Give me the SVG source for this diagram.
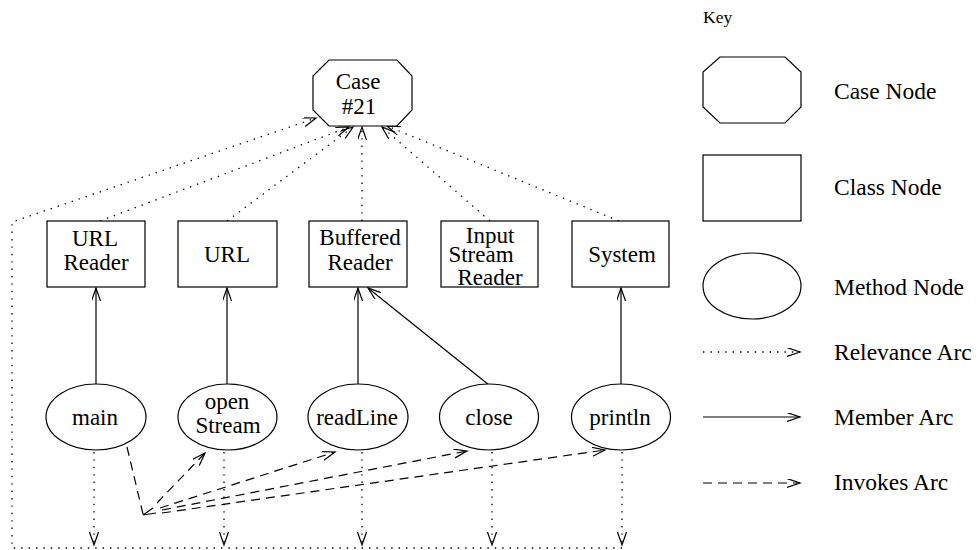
<svg xmlns="http://www.w3.org/2000/svg" width="979" height="550" viewBox="0 0 979 550">
<style>
.shape{fill:#fff;stroke:#000;stroke-width:1.2}
.lbl{font-family:"Liberation Serif","Times New Roman",serif;font-size:23px;fill:#000;text-anchor:middle}
.klbl{font-family:"Liberation Serif","Times New Roman",serif;font-size:23.5px;fill:#000}
.rel{fill:none;stroke:#000;stroke-width:1.3;stroke-dasharray:1.4 6}
.mem{fill:none;stroke:#000;stroke-width:1.2}
.inv{fill:none;stroke:#000;stroke-width:1.2;stroke-dasharray:9 6}
</style>
<defs>
<marker id="ah" markerUnits="userSpaceOnUse" markerWidth="16" markerHeight="12" refX="13" refY="4.5" orient="auto">
<path d="M0,0 L13,4.5 L0,9" fill="none" stroke="#000" stroke-width="1.2"/>
</marker>
</defs>

<g id="connectors">
<path class="rel" d="M622,548 H12 V222 L316,118" marker-end="url(#ah)"/>
<path class="rel" d="M100,221 L349,127" marker-end="url(#ah)"/>
<path class="rel" d="M227,221 L353,127" marker-end="url(#ah)"/>
<path class="rel" d="M362,221 L362,127" marker-end="url(#ah)"/>
<path class="rel" d="M490,221 L382,127" marker-end="url(#ah)"/>
<path class="rel" d="M619,221 L387,126" marker-end="url(#ah)"/>
<path class="rel" d="M94,452 L94,545" marker-end="url(#ah)"/>
<path class="rel" d="M224,452 L224,545" marker-end="url(#ah)"/>
<path class="rel" d="M362,452 L362,545" marker-end="url(#ah)"/>
<path class="rel" d="M492,452 L492,545" marker-end="url(#ah)"/>
<path class="rel" d="M622,452 L622,545" marker-end="url(#ah)"/>
<path class="mem" d="M96,385 L96,288" marker-end="url(#ah)"/>
<path class="mem" d="M227,385 L227,288" marker-end="url(#ah)"/>
<path class="mem" d="M358,385 L358,288" marker-end="url(#ah)"/>
<path class="mem" d="M489,385 L368,288" marker-end="url(#ah)"/>
<path class="mem" d="M621,385 L621,288" marker-end="url(#ah)"/>
<path class="inv" d="M127,447 L143,514"/>
<path d="M153,508 L143,515 L156,513" fill="none" stroke="#000" stroke-width="1.2"/>
<path class="inv" d="M157,503 L205,453" marker-end="url(#ah)"/>
<path class="inv" d="M160,508 L335,452" marker-end="url(#ah)"/>
<path class="inv" d="M162,510 L467,451" marker-end="url(#ah)"/>
<path class="inv" d="M162,513 L605,450" marker-end="url(#ah)"/>
</g>

<g id="case21">
<polygon class="shape" points="329,60 397,60 412,76 412,110 397,126 329,126 313,110 313,76"/>
<text class="lbl" x="358" y="89">Case</text>
<text class="lbl" x="359" y="114">#21</text>
</g>

<g id="URLReader">
<rect class="shape" x="47" y="221" width="98" height="66"/>
<text class="lbl" x="95" y="246">URL</text>
<text class="lbl" x="96" y="270">Reader</text>
</g>
<g id="URL">
<rect class="shape" x="178" y="221" width="99" height="66"/>
<text class="lbl" x="227" y="262">URL</text>
</g>
<g id="BufferedReader">
<rect class="shape" x="309" y="221" width="98" height="66"/>
<text class="lbl" x="360" y="245">Buffered</text>
<text class="lbl" x="360" y="270">Reader</text>
</g>
<g id="InputStreamReader">
<rect class="shape" x="441" y="221" width="97" height="66"/>
<text class="lbl" x="490" y="243">Input</text>
<text class="lbl" x="481" y="262">Stream</text>
<text class="lbl" x="490" y="285">Reader</text>
</g>
<g id="System">
<rect class="shape" x="572" y="221" width="97" height="66"/>
<text class="lbl" x="622" y="262">System</text>
</g>

<g id="main">
<ellipse class="shape" cx="96" cy="417" rx="50" ry="33"/>
<text class="lbl" x="95" y="425">main</text>
</g>
<g id="openStream">
<ellipse class="shape" cx="227.5" cy="417" rx="49.5" ry="33"/>
<text class="lbl" x="227" y="409">open</text>
<text class="lbl" x="228" y="433">Stream</text>
</g>
<g id="readLine">
<ellipse class="shape" cx="358" cy="417" rx="50" ry="33"/>
<text class="lbl" x="357" y="425">readLine</text>
</g>
<g id="close">
<ellipse class="shape" cx="489" cy="417" rx="49.5" ry="33"/>
<text class="lbl" x="489" y="425">close</text>
</g>
<g id="println">
<ellipse class="shape" cx="621" cy="417" rx="49.5" ry="33"/>
<text class="lbl" x="620" y="425">println</text>
</g>

<g id="key">
<text class="klbl" x="703" y="23" style="font-size:17.5px">Key</text>
<polygon class="shape" points="720,57 785,57 801,72 801,107 785,123 720,123 703,107 703,72"/>
<text class="klbl" x="834" y="99">Case Node</text>
<rect class="shape" x="703" y="155" width="98" height="66"/>
<text class="klbl" x="834" y="195">Class Node</text>
<ellipse class="shape" cx="752" cy="286" rx="49" ry="33"/>
<text class="klbl" x="834" y="295">Method Node</text>
<path class="rel" d="M703,352 L800,352" marker-end="url(#ah)"/>
<text class="klbl" x="834" y="360">Relevance Arc</text>
<path class="mem" d="M703,417 L800,417" marker-end="url(#ah)"/>
<text class="klbl" x="834" y="425">Member Arc</text>
<path class="inv" d="M703,483 L800,483" marker-end="url(#ah)"/>
<text class="klbl" x="834" y="490">Invokes Arc</text>
</g>
</svg>
